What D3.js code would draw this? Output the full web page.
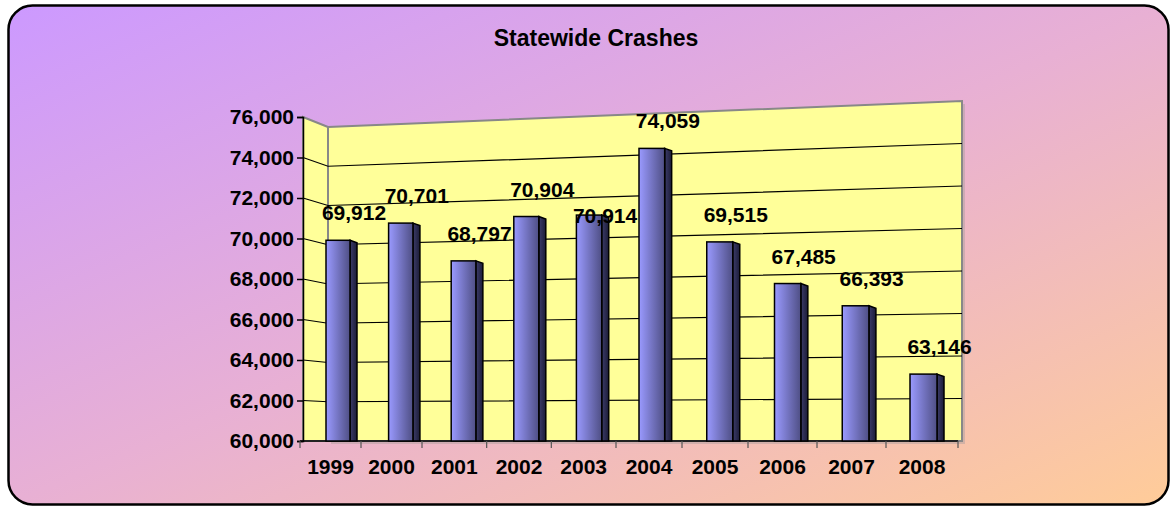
<!DOCTYPE html>
<html>
<head>
<meta charset="utf-8">
<script src="https://cdn.jsdelivr.net/npm/d3@7"></script>
<style>
  body { margin: 0; background: #fff; }
  text { font-family: "Liberation Sans", Arial, sans-serif; font-weight: bold; fill: #000; }
</style>
</head>
<body>
<div id="chart-area"></div>
<script>
var years = ["1999", "2000", "2001", "2002", "2003", "2004", "2005", "2006", "2007", "2008"];
var crashes = [69912, 70701, 68797, 70904, 70914, 74059, 69515, 67485, 66393, 63146];
var yTicks = [60000, 62000, 64000, 66000, 68000, 70000, 72000, 74000, 76000];

var width = 1175, height = 510;

var svg = d3.select("#chart-area")
    .append("svg")
        .attr("width", width)
        .attr("height", height);

var defs = svg.append("defs");

var bg = defs.append("linearGradient")
    .attr("id", "bg")
    .attr("x1", "0").attr("y1", "0")
    .attr("x2", "1").attr("y2", "1");
bg.append("stop").attr("offset", "0").attr("stop-color", "#cc99ff");
bg.append("stop").attr("offset", "0.5").attr("stop-color", "#e8b0d4");
bg.append("stop").attr("offset", "1").attr("stop-color", "#ffcc99");

var barGrad = defs.append("linearGradient")
    .attr("id", "barFront")
    .attr("x1", "0").attr("y1", "0")
    .attr("x2", "1").attr("y2", "0");
barGrad.append("stop").attr("offset", "0").attr("stop-color", "#9a9aff");
barGrad.append("stop").attr("offset", "1").attr("stop-color", "#4f4f85");

var sideGrad = defs.append("linearGradient")
    .attr("id", "barSide")
    .attr("x1", "0").attr("y1", "0")
    .attr("x2", "1").attr("y2", "0");
sideGrad.append("stop").attr("offset", "0").attr("stop-color", "#3c3c6a");
sideGrad.append("stop").attr("offset", "1").attr("stop-color", "#1c1c38");

// background panel
svg.append("rect")
    .attr("x", 8.5).attr("y", 5.5)
    .attr("width", 1160).attr("height", 499)
    .attr("rx", 24).attr("ry", 24)
    .attr("fill", "url(#bg)")
    .attr("stroke", "#000")
    .attr("stroke-width", 2.5);

svg.append("text")
    .attr("x", 596)
    .attr("y", 46)
    .attr("font-size", "23px")
    .attr("text-anchor", "middle")
    .text("Statewide Crashes");

// 3d geometry
var axisX = 303, wallL = 328, wallR = 962, floorY = 441;

var y = d3.scaleLinear().domain([60000, 76000]).range([floorY, 117]);
var yBackL = d3.scaleLinear().domain([60000, 76000]).range([floorY, 127]);
var yBackR = d3.scaleLinear().domain([60000, 76000]).range([floorY, 101]);

// front edge of the floor, widening to the right
var xEdge = d3.scaleLinear()
    .domain([0, 2, 5, 7, 9, 10])
    .range([300, 422, 616, 748, 886, 958]);

// bar positions (perspective)
var xBar = d3.scaleLinear().domain([0, 5, 9]).range([326, 639, 910]);
var barW = d3.scaleLinear().domain([0, 9]).range([24, 27]);
var depth = d3.scaleLinear().domain([0, 9]).range([1.0, 1.05]);

// side wall
svg.append("polygon")
    .attr("points", [[axisX, y(76000)], [wallL, yBackL(76000)], [wallL, floorY], [axisX, floorY]].join(" "))
    .attr("fill", "#ffff99")
    .attr("stroke", "#888")
    .attr("stroke-width", 2);

// back wall shadow + wall
svg.append("polygon")
    .attr("points", [[wallL + 3, yBackL(76000) + 3], [wallR + 3, yBackR(76000) + 3], [wallR + 3, floorY + 3], [wallL + 3, floorY + 3]].join(" "))
    .attr("fill", "#b0a0a0")
    .attr("opacity", 0.5);

svg.append("polygon")
    .attr("points", [[wallL, yBackL(76000)], [wallR, yBackR(76000)], [wallR, floorY], [wallL, floorY]].join(" "))
    .attr("fill", "#ffff99")
    .attr("stroke", "#888")
    .attr("stroke-width", 2);

// gridlines
svg.selectAll(".grid")
    .data(yTicks.filter(function(d) { return d > 60000 && d < 76000; }))
    .enter().append("polyline")
    .attr("class", "grid")
    .attr("points", function(d) {
        return [[axisX, y(d)], [wallL, yBackL(d)], [wallR, yBackR(d)]].join(" ");
    })
    .attr("fill", "none")
    .attr("stroke", "#000")
    .attr("stroke-width", 1.2);

// y axis
var yAxis = d3.axisLeft(y)
    .tickValues(yTicks)
    .tickSize(6)
    .tickPadding(3)
    .tickFormat(d3.format(","));

var yAxisGroup = svg.append("g")
    .attr("transform", "translate(" + axisX + ",0)")
    .call(yAxis);
yAxisGroup.select(".domain").attr("stroke", "#000").attr("stroke-width", 1.5);
yAxisGroup.selectAll(".tick line").attr("stroke", "#000").attr("stroke-width", 1.5);
yAxisGroup.selectAll(".tick text")
    .attr("font-size", "21px")
    .attr("font-family", "Liberation Sans, Arial, sans-serif")
    .attr("font-weight", "bold")
    .attr("fill", "#000");

// x axis line + ticks
svg.append("line")
    .attr("x1", 300).attr("x2", 958)
    .attr("y1", floorY).attr("y2", floorY)
    .attr("stroke", "#000").attr("stroke-width", 1.5);

svg.selectAll(".xtick")
    .data(d3.range(years.length + 1))
    .enter().append("line")
    .attr("class", "xtick")
    .attr("x1", function(i) { return xEdge(i); })
    .attr("x2", function(i) { return xEdge(i); })
    .attr("y1", floorY)
    .attr("y2", floorY + 7)
    .attr("stroke", "#555")
    .attr("stroke-width", 1.2);

svg.selectAll(".xlabel")
    .data(years)
    .enter().append("text")
    .attr("class", "xlabel")
    .attr("x", function(d, i) { return xEdge(i + 0.5); })
    .attr("y", 474)
    .attr("font-size", "21px")
    .attr("text-anchor", "middle")
    .text(function(d) { return d; });

function barTop(d, i) {
    return floorY - (floorY - y(d)) * depth(i);
}

// value labels: above the bar, dropped to bar-top level when they hit the previous one
var labelPos = [];
crashes.forEach(function(d, i) {
    var cx = xBar(i) + barW(i) / 2 + 16;
    var by = barTop(d, i) - 20;
    var prev = labelPos[i - 1];
    if (prev && cx - prev.x < 70 && Math.abs(by - prev.y) < 17) {
        by = barTop(d, i) + 8;
    }
    labelPos.push({ x: cx, y: by, v: d, i: i });
});

// each bar with its label; the next bar covers what sticks out
var bars = svg.selectAll(".bar")
    .data(labelPos)
    .enter().append("g")
    .attr("class", "bar");

bars.append("polygon")
    .attr("points", function(d) {
        var x0 = xBar(d.i) + barW(d.i), t = barTop(d.v, d.i);
        return [[x0, t], [x0 + 7, t + 2.5], [x0 + 7, floorY], [x0, floorY]].join(" ");
    })
    .attr("fill", "url(#barSide)")
    .attr("stroke", "#000")
    .attr("stroke-width", 1.5);

bars.append("rect")
    .attr("x", function(d) { return xBar(d.i); })
    .attr("y", function(d) { return barTop(d.v, d.i); })
    .attr("width", function(d) { return barW(d.i); })
    .attr("height", function(d) { return floorY - barTop(d.v, d.i); })
    .attr("fill", "url(#barFront)")
    .attr("stroke", "#000")
    .attr("stroke-width", 1.5);

bars.append("text")
    .attr("class", "vlabel")
    .attr("x", function(d) { return d.x; })
    .attr("y", function(d) { return d.y; })
    .attr("font-size", "21px")
    .attr("text-anchor", "middle")
    .text(function(d) { return d3.format(",")(d.v); });
</script>
</body>
</html>
